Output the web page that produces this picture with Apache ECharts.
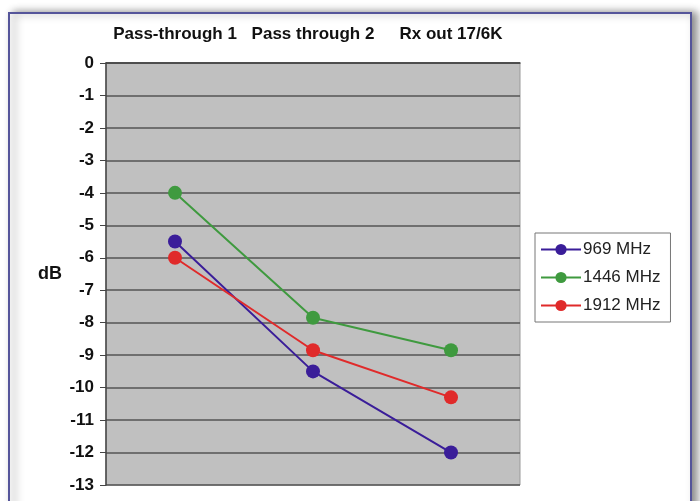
<!DOCTYPE html>
<html>
<head>
<meta charset="utf-8">
<script src="https://cdn.jsdelivr.net/npm/echarts@6/dist/echarts.min.js"></script>
<style>
html,body{margin:0;padding:0;background:#fff;}
#c{width:700px;height:501px;}
</style>
</head>
<body>
<div id="c"></div>
<script>
const categories = ['Pass-through 1', 'Pass through 2', 'Rx out 17/6K'];
const seriesNames = ['969 MHz', '1446 MHz', '1912 MHz'];
const s969 = [-5.5, -9.5, -12];
const s1446 = [-4, -7.85, -8.85];
const s1912 = [-6, -8.85, -10.3];
const colors = ['#3a1d99', '#3f9a3f', '#e02a2a'];
const yTicks = {min: -13, max: 0, interval: 1};

const chart = echarts.init(document.getElementById('c'));
const mk = (name, data, color) => ({
  name, type: 'line', data,
  symbol: 'circle', symbolSize: 14,
  lineStyle: {color, width: 2},
  itemStyle: {color},
  emphasis: {disabled: true}
});
chart.setOption({
  animation: false,
  backgroundColor: '#fff',
  textStyle: {fontFamily: 'Liberation Sans, Arial, sans-serif'},
  graphic: [{
    type: 'rect', left: 8, top: 12,
    shape: {width: 682, height: 520},
    style: {fill: '#fff', stroke: '#55559a', lineWidth: 2,
      shadowBlur: 8, shadowOffsetX: 5, shadowColor: 'rgba(0,0,0,0.45)'},
    z: -10
  }],
  grid: {left: 106, right: 180, top: 63, bottom: 16, show: true,
    backgroundColor: '#c0c0c0', borderColor: '#9a9a9a', borderWidth: 1},
  legend: {
    orient: 'vertical', left: 535, top: 233,
    data: seriesNames,
    backgroundColor: '#fff', borderColor: '#777', borderWidth: 1,
    padding: [8, 10, 8, 5],
    itemWidth: 40, itemHeight: 14, itemGap: 11,
    textStyle: {fontSize: 17, color: '#222', padding: [0, 0, 0, -3], fontFamily: 'Liberation Sans, Arial, sans-serif'}
  },
  xAxis: {
    type: 'category', position: 'top', data: categories, boundaryGap: true,
    axisLine: {lineStyle: {color: '#444', width: 1.5}},
    axisTick: {inside: true, length: 5, lineStyle: {color: '#444'}},
    axisLabel: {fontSize: 17, fontWeight: 'bold', color: '#111', margin: 20, interval: 0, hideOverlap: false}
  },
  yAxis: {
    type: 'value', min: yTicks.min, max: yTicks.max, interval: yTicks.interval,
    name: 'dB', nameLocation: 'middle', nameRotate: 0, nameGap: 44,
    nameTextStyle: {fontSize: 18, fontWeight: 'bold', color: '#111'},
    axisLine: {show: true, lineStyle: {color: '#444', width: 1.5}},
    axisTick: {show: true, length: 6, lineStyle: {color: '#444'}},
    axisLabel: {fontSize: 17, fontWeight: 'bold', color: '#111', margin: 12},
    splitLine: {lineStyle: {color: '#555', width: 1.5}}
  },
  series: [
    mk(seriesNames[0], s969, colors[0]),
    mk(seriesNames[1], s1446, colors[1]),
    mk(seriesNames[2], s1912, colors[2])
  ]
});
</script>
</body>
</html>
